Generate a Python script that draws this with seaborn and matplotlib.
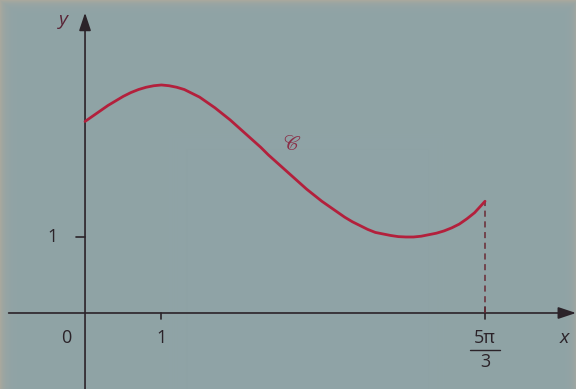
import numpy as np
import pandas as pd
import matplotlib
matplotlib.use("Agg")
import matplotlib.pyplot as plt
import seaborn as sns

# Curve C, sampled points (x, y)
curve_x = [0.0, 0.1, 0.2, 0.3, 0.4, 0.5, 0.6, 0.7, 0.8, 0.9, 1.0, 1.1, 1.2,
           1.3, 1.4, 1.5, 1.6, 1.7, 1.8, 1.9, 2.0, 2.1, 2.2, 2.3, 2.4, 2.5,
           2.6, 2.7, 2.8, 2.9, 3.0, 3.1, 3.2, 3.3, 3.4, 3.5, 3.6, 3.7, 3.8,
           3.9, 4.0, 4.1, 4.2, 4.3, 4.4, 4.5, 4.6, 4.7, 4.8, 4.9, 5.0, 5.1,
           5.2, 5.236]
curve_y = [2.52, 2.59, 2.66, 2.73, 2.79, 2.85, 2.90, 2.94, 2.97, 2.99, 3.00,
           2.99, 2.97, 2.94, 2.89, 2.84, 2.77, 2.70, 2.62, 2.54, 2.45, 2.36,
           2.27, 2.18, 2.08, 1.99, 1.90, 1.81, 1.72, 1.63, 1.55, 1.47, 1.40,
           1.33, 1.26, 1.20, 1.15, 1.10, 1.06, 1.04, 1.02, 1.005, 1.00, 1.00,
           1.01, 1.03, 1.05, 1.08, 1.12, 1.17, 1.24, 1.32, 1.43, 1.47]

x_end = 5 * np.pi / 3
y_end = curve_y[-1]

bg = "#8fa3a6"
edge = np.array([0.66, 0.66, 0.62])
axis_col = "#2b2329"
curve_col = "#b3203c"

sns.set_theme(style="white")
plt.rcParams["font.family"] = ["Open Sans", "DejaVu Sans"]

W, H = 576, 389
fig = plt.figure(figsize=(W / 100, H / 100), dpi=100)
fig.patch.set_facecolor(bg)

# Paper background, slightly lighter towards the left and top edges
bax = fig.add_axes([0, 0, 1, 1], zorder=0)
base = np.array(matplotlib.colors.to_rgb(bg))
cols = np.arange(W)[None, :]
rows = np.arange(H)[:, None]
w = np.maximum(np.exp(-cols / 5.0), np.exp(-rows / 4.0))
w = np.maximum(w, np.exp(-(W - 1 - cols) / 4.0) * 0.6)
img = base[None, None, :] * (1 - w[..., None]) + edge[None, None, :] * w[..., None]
bax.imshow(img, aspect="auto", interpolation="bilinear")
bax.axis("off")

ax = fig.add_axes([0, 0, 1, 1], zorder=1)
ax.patch.set_alpha(0)
ax.set_xlim(-1.113, 6.427)
ax.set_ylim(-1.0, 4.118)
for s in ax.spines.values():
    s.set_visible(False)
ax.set_xticks([])
ax.set_yticks([])

df = pd.DataFrame({"x": curve_x, "y": curve_y})
sns.lineplot(data=df, x="x", y="y", ax=ax, color=curve_col, lw=2.0,
             sort=False, zorder=4)
ax.set_xlabel("")
ax.set_ylabel("")

# Axes with arrows
ax.annotate("", xy=(6.427, 0), xytext=(-1.0, 0),
            arrowprops=dict(arrowstyle="-|>,head_length=0.9,head_width=0.3",
                            color=axis_col, lw=1.2, shrinkA=0, shrinkB=0))
ax.annotate("", xy=(0, 3.95), xytext=(0, -1.0),
            arrowprops=dict(arrowstyle="-|>,head_length=0.9,head_width=0.3",
                            color=axis_col, lw=1.2, shrinkA=0, shrinkB=0))

# Ticks
ax.plot([1, 1], [0, -0.08], color=axis_col, lw=1.2)
ax.plot([-0.12, 0], [1, 1], color=axis_col, lw=1.2)
ax.plot([x_end, x_end], [0.08, -0.08], color=axis_col, lw=1.2)

# Dashed guide at x = 5pi/3
ax.plot([x_end, x_end], [0, y_end], color="#6a2a35", lw=1.1,
        ls=(0, (4, 3)), zorder=3)

fs = 13
ax.text(-0.24, -0.33, "0", fontsize=fs, color=axis_col, ha="center", va="center")
ax.text(1.0, -0.33, "1", fontsize=fs, color=axis_col, ha="center", va="center")
ax.text(-0.42, 1.0, "1", fontsize=fs, color=axis_col, ha="center", va="center")
ax.text(x_end, -0.33, "5π", fontsize=fs, color=axis_col, ha="center", va="center")
ax.plot([x_end - 0.2, x_end + 0.2], [-0.49, -0.49], color=axis_col, lw=1.0)
ax.text(x_end, -0.64, "3", fontsize=fs, color=axis_col, ha="center", va="center")
ax.text(6.28, -0.33, "x", fontsize=fs + 1, color=axis_col, style="italic",
        ha="center", va="center")
ax.text(-0.28, 3.85, "y", fontsize=fs + 1, color="#5a2436", style="italic",
        ha="center", va="center")
ax.text(2.70, 2.21, "\U0001D49E", fontsize=fs + 2, color="#8a3048",
        family=["STIXGeneral", "DejaVu Sans"], ha="center", va="center")

fig.savefig("out.png", dpi=100, facecolor=bg)
